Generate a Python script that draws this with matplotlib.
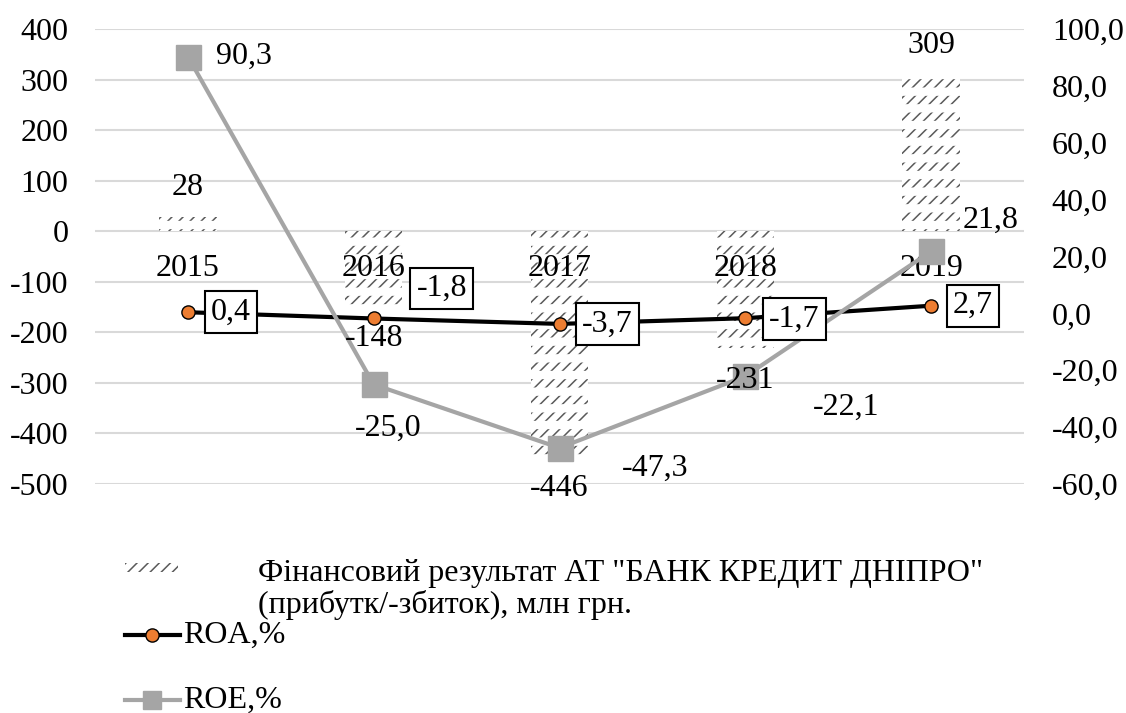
import matplotlib.pyplot as plt
from matplotlib.lines import Line2D
from matplotlib.patches import Rectangle

# data
years = ["2015", "2016", "2017", "2018", "2019"]
profit = [28, -148, -446, -231, 309]
roa = [0.4, -1.8, -3.7, -1.7, 2.7]
roe = [90.3, -25.0, -47.3, -22.1, 21.8]

left_ticks = [400, 300, 200, 100, 0, -100, -200, -300, -400, -500]
right_ticks = [100, 80, 60, 40, 20, 0, -20, -40, -60]

legend_bar = 'Фінансовий результат АТ "БАНК КРЕДИТ ДНІПРО"\n(прибутк/-збиток), млн грн.'
legend_roa = "ROA,%"
legend_roe = "ROE,%"

plt.rcParams['font.family'] = ['Liberation Serif', 'DejaVu Serif']
FS = 23
W, H = 1126, 713
PX = 0.72  # px -> points at dpi 100
HATCH_C = '#5a5a5a'

def comma(v):
    return f"{v:.1f}".replace('.', ',')

fig = plt.figure(figsize=(W / 100, H / 100), dpi=100)
ax = fig.add_axes([95 / W, 1 - 484 / H, (1024 - 95) / W, (484 - 29) / H])
x = list(range(len(years)))

# bars: diagonal strokes, then white horizontal bands to break them into rows
strokes = ax.bar(x, profit, width=0.31, facecolor='white', edgecolor=HATCH_C,
                 linewidth=0, hatch='///', zorder=2)
gaps = ax.bar(x, profit, width=0.31, facecolor='none', edgecolor='white',
              linewidth=0, hatch='-', zorder=2.1)
for b in strokes:
    if hasattr(b, 'set_hatch_linewidth'):
        b.set_hatch_linewidth(1.1)
for b in gaps:
    if hasattr(b, 'set_hatch_linewidth'):
        b.set_hatch_linewidth(6)
    else:
        b.set_visible(False)

ax.set_xlim(-0.5, 4.5)
ax.set_ylim(-500, 400)
ax.set_yticks(left_ticks)
ax.set_yticklabels([str(t) for t in left_ticks])
ax.set_xticks([])
ax.grid(axis='y', color='#d9d9d9', linewidth=1.5)
ax.set_axisbelow(True)
for s in ax.spines.values():
    s.set_visible(False)
ax.tick_params(axis='y', length=0, pad=19, labelsize=FS)

# category labels next to the zero line
for i, yr in enumerate(years):
    ax.annotate(yr, (i, 0), xytext=(0, -37 * PX), textcoords='offset points',
                ha='center', va='center', fontsize=FS, zorder=5)

ax2 = ax.twinx()
ax2.set_ylim(-60, 100)
ax2.set_yticks(right_ticks)
ax2.set_yticklabels([comma(t) for t in right_ticks])
for s in ax2.spines.values():
    s.set_visible(False)
ax2.tick_params(axis='y', length=0, pad=20, labelsize=FS)

ax2.plot(x, roa, color='black', linewidth=3, marker='o', markersize=9.5,
         markerfacecolor='#ed7d31', markeredgecolor='black', markeredgewidth=1,
         zorder=3)
ax2.plot(x, roe, color='#a5a5a5', linewidth=3, marker='s', markersize=18,
         markerfacecolor='#a5a5a5', markeredgecolor='#a5a5a5', zorder=4)

# bar value labels
for i, v in enumerate(profit):
    dy = 30 if v >= 0 else -32
    ax2.annotate(str(v), (i, v), xycoords=ax.transData, xytext=(0, dy * PX),
                 textcoords='offset points', ha='center', va='center',
                 fontsize=FS, zorder=6)

# ROE labels
roe_off = [(56, 0), (14, 44), (96, 20), (101, 31), (59, -31)]
for i, v in enumerate(roe):
    dx, dy = roe_off[i]
    ax2.annotate(comma(v), (i, v), xytext=(dx * PX, -dy * PX),
                 textcoords='offset points', ha='center', va='center',
                 fontsize=FS, zorder=6)

# ROA labels in boxes
roa_off = [(43, 0), (68, -30), (48, 0), (49, 1), (42, 0)]
for i, v in enumerate(roa):
    dx, dy = roa_off[i]
    ax2.annotate(comma(v), (i, v), xytext=(dx * PX, -dy * PX),
                 textcoords='offset points', ha='center', va='center',
                 fontsize=FS, zorder=7,
                 bbox=dict(boxstyle='square,pad=0.2', facecolor='white',
                           edgecolor='black', linewidth=1.5))

# legend
tf = fig.transFigure
swatch = Rectangle((125 / W, 1 - 572 / H), 53 / W, 9 / H, transform=tf,
                   facecolor='white', edgecolor=HATCH_C, linewidth=0, hatch='///')
if hasattr(swatch, 'set_hatch_linewidth'):
    swatch.set_hatch_linewidth(1.1)
fig.patches.append(swatch)
fig.text(258 / W, 1 - 589.5 / H, legend_bar, fontsize=FS, ha='left', va='center',
         linespacing=1.1)
fig.lines.append(Line2D([125 / W, 180 / W], [1 - 635 / H] * 2, transform=tf,
                        color='black', linewidth=3))
fig.lines.append(Line2D([152 / W], [1 - 635 / H], transform=tf, marker='o',
                        markersize=9.5, markerfacecolor='#ed7d31',
                        markeredgecolor='black', markeredgewidth=1))
fig.text(183 / W, 1 - 635 / H, legend_roa, fontsize=FS, ha='left', va='center')
fig.lines.append(Line2D([125 / W, 180 / W], [1 - 700 / H] * 2, transform=tf,
                        color='#a5a5a5', linewidth=3))
fig.lines.append(Line2D([152 / W], [1 - 700 / H], transform=tf, marker='s',
                        markersize=12.5, color='#a5a5a5'))
fig.text(183 / W, 1 - 700 / H, legend_roe, fontsize=FS, ha='left', va='center')

fig.savefig("out.png", dpi=100)
